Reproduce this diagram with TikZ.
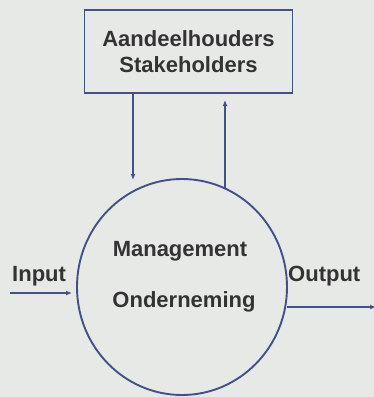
\documentclass[tikz,border=0pt]{standalone}
\usepackage{fontspec}
\setmainfont{Liberation Sans}
\usepackage{tikz}
\usetikzlibrary{arrows.meta,shapes.geometric}
\definecolor{bluelin}{HTML}{44508A}
\definecolor{papier}{HTML}{E7E9E7}
\definecolor{inkt}{HTML}{333333}
\tikzset{
  lbl/.style={text=inkt,font=\fontsize{22}{26}\selectfont\bfseries,inner sep=0pt},
  flow/.style={draw=bluelin,line width=1.9pt,-{Latex[length=6pt,width=5pt]}}
}

\begin{document}
\begin{tikzpicture}[x=1pt,y=-1pt]
% background
\fill[papier] (0,0) rectangle (374,397);
\useasboundingbox (0,0) rectangle (374,397);
% stakeholders box
\node[draw=bluelin,line width=1.9pt,minimum width=208pt,minimum height=83pt,
  align=center,lbl,inner sep=0pt] (stake) at (188.5,51.5)
  {Aandeelhouders\\Stakeholders};
% company circle
\node[draw=bluelin,line width=1.9pt,ellipse,minimum width=210pt,minimum height=216pt]
  (firm) at (182,287) {};
\node[lbl,anchor=base] (mgmt) at (180,256) {Management};
\node[lbl,anchor=base] (onder) at (184,307) {Onderneming};
% in and out
\node[lbl,anchor=base west] (inp) at (12,281) {Input};
\node[lbl,anchor=base west] (outp) at (288,281) {Output};
\coordinate (inA) at (10,293);
\coordinate (inB) at (72,293);
\coordinate (outA) at (287,307);
\coordinate (outB) at (376,307);
\draw[flow] (inA) -- (inB);
\draw[flow] (outA) -- (outB);
% feedback arrows
\coordinate (downB) at (133,180);
\coordinate (upA) at (225,189);
\coordinate (upB) at (225,100);
\draw[flow] (stake.south -| downB) -- (downB);
\draw[flow] (upA) -- (upB);
\end{tikzpicture}
\end{document}
